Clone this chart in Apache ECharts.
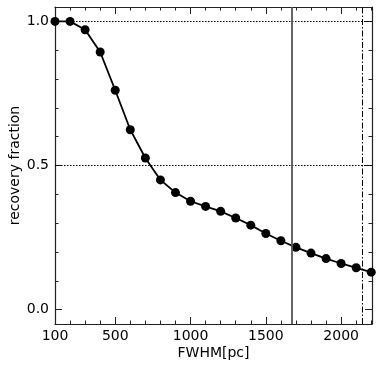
<!DOCTYPE html>
<html>
<head>
<meta charset="utf-8">
<script src="https://cdn.jsdelivr.net/npm/echarts@6/dist/echarts.min.js"></script>
<style>
  html, body { margin: 0; padding: 0; background: #fff; }
  #chart { width: 382px; height: 370px; }
</style>
</head>
<body>
<div id="chart"></div>
<script>
// FWHM values (pc) and recovery fraction
const fwhm = [100, 200, 300, 400, 500, 600, 700, 800, 900, 1000, 1100,
  1200, 1300, 1400, 1500, 1600, 1700, 1800, 1900, 2000, 2100, 2200]
const recovery = [1.0, 1.0, 0.971, 0.894, 0.761, 0.624, 0.526, 0.45, 0.406, 0.376, 0.358,
  0.341, 0.318, 0.293, 0.264, 0.239, 0.216, 0.196, 0.177, 0.160, 0.145, 0.130]

// ticks
const xMajor = [100, 500, 1000, 1500, 2000]
const xMinor = fwhm
const yMajor = [0, 0.5, 1.0]
const yMinor = [0, 0.1, 0.2, 0.3, 0.4, 0.5, 0.6, 0.7, 0.8, 0.9, 1.0]

// reference lines
const hLines = [1.0, 0.5]
const solidLineX = 1670
const dashDotX = 2140

const font = 'DejaVu Sans'
const chart = echarts.init(document.getElementById('chart'))

function xAx(pos, ticks, len, labels, showLine) {
  return {
    type: 'value', position: pos, min: 100, max: 2205,
    axisLine: {show: showLine, onZero: false, lineStyle: {color: '#222', width: 1.2}},
    axisTick: {show: true, inside: true, length: len, customValues: ticks, lineStyle: {color: '#222', width: 1}},
    axisLabel: labels ? {show: true, customValues: labels, color: '#000', fontSize: 14, fontFamily: font, margin: 5,
      formatter: v => String(v)} : {show: false},
    splitLine: {show: false}
  }
}
function yAx(pos, ticks, len, labels, showLine) {
  return {
    type: 'value', position: pos, min: -0.05, max: 1.05,
    axisLine: {show: showLine, onZero: false, lineStyle: {color: '#222', width: 1.2}},
    axisTick: {show: true, inside: true, length: len, customValues: ticks, lineStyle: {color: '#222', width: 1}},
    axisLabel: labels ? {show: true, customValues: labels, color: '#000', fontSize: 14, fontFamily: font, margin: 6,
      formatter: v => v.toFixed(1)} : {show: false},
    splitLine: {show: false}
  }
}

const xAxes = [
  xAx('bottom', xMinor, 3.5, xMajor, true),
  xAx('bottom', xMajor, 7, null, false),
  xAx('top', xMinor, 3.5, null, true),
  xAx('top', xMajor, 7, null, false)
]
xAxes[0].name = 'FWHM[pc]'
xAxes[0].nameLocation = 'middle'
xAxes[0].nameGap = 22
xAxes[0].nameMoveOverlap = false
xAxes[0].nameTextStyle = {color: '#000', fontSize: 14, fontFamily: font}

const yAxes = [
  yAx('left', yMinor, 3.5, yMajor, true),
  yAx('left', yMajor, 7, null, false),
  yAx('right', yMinor, 3.5, null, true),
  yAx('right', yMajor, 7, null, false)
]
yAxes[0].name = 'recovery fraction'
yAxes[0].nameLocation = 'middle'
yAxes[0].nameGap = 33
yAxes[0].nameMoveOverlap = false
yAxes[0].nameTextStyle = {color: '#000', fontSize: 14, fontFamily: font}

const option = {
  animation: false,
  grid: {left: 55, right: 10, top: 7, bottom: 46, outerBoundsMode: 'none'},
  xAxis: xAxes,
  yAxis: yAxes,
  series: [
    {
      type: 'line',
      data: fwhm.map((x, i) => [x, recovery[i]]),
      xAxisIndex: 0, yAxisIndex: 0,
      symbol: 'circle', symbolSize: 9,
      lineStyle: {color: '#000', width: 1.8},
      itemStyle: {color: '#000'},
      markLine: {
        silent: true, symbol: 'none', label: {show: false},
        data: hLines.map(v => ({yAxis: v, lineStyle: {type: [1.5, 1.5], color: '#000', width: 1}}))
          .concat([
            {xAxis: solidLineX, lineStyle: {type: 'solid', color: '#555', width: 1.8}},
            {xAxis: dashDotX, lineStyle: {type: [6, 2, 1.5, 2], color: '#000', width: 1}}
          ])
      },
      z: 3
    }
  ]
}
chart.setOption(option)
</script>
</body>
</html>
